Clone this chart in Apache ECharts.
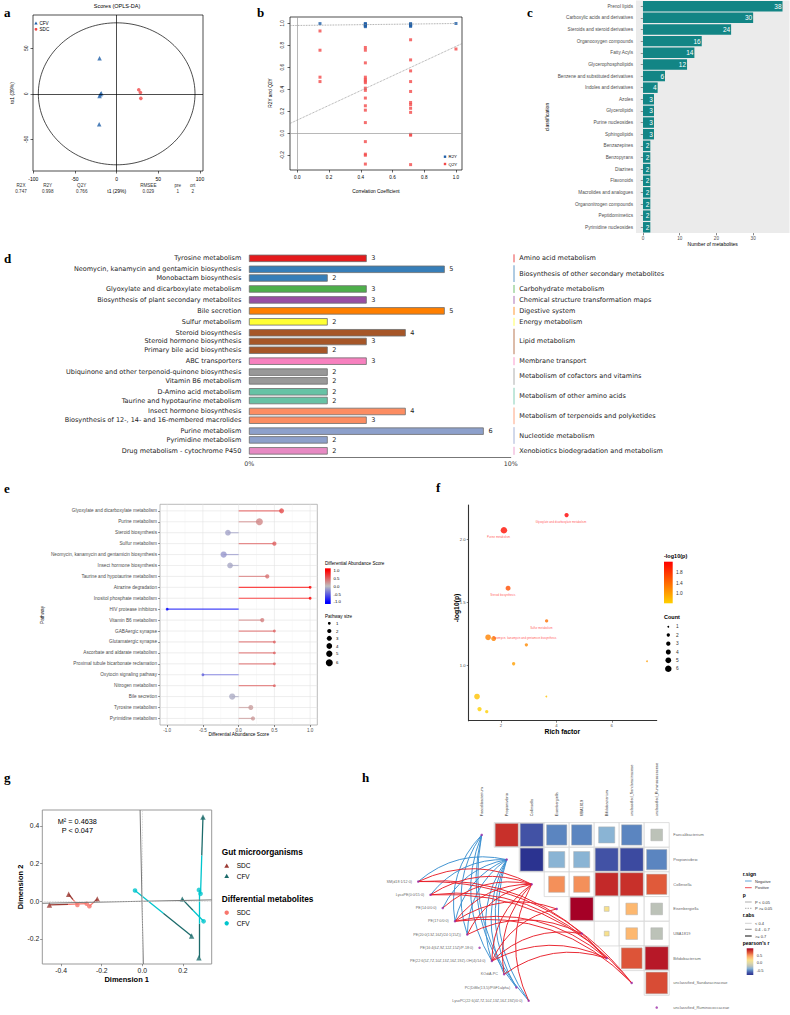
<!DOCTYPE html>
<html>
<head>
<meta charset="utf-8">
<script src="https://cdn.jsdelivr.net/npm/echarts@6/dist/echarts.min.js"></script>
<style>
  html, body { margin: 0; padding: 0; background: #fff; width: 790px; height: 1015px; overflow: hidden; }
  .layer { position: absolute; left: 0; top: 0; width: 790px; height: 1015px; }
</style>
</head>
<body>
<div id="pa" class="layer"></div>
<div id="pb" class="layer"></div>
<div id="pc" class="layer"></div>
<div id="pd" class="layer"></div>
<div id="pe" class="layer"></div>
<div id="pf" class="layer"></div>
<div id="pg" class="layer"></div>
<div id="ph" class="layer"></div>
<div id="plabels" class="layer"></div>
<script>
// ---------- a: OPLS-DA scores
const aCfvT1 = [-20.5, -19.5, -18.5, -20.5, -21];
const aCfvTo1 = [39, -0.5, 0.5, -2.5, -33.5];
const aSdcT1 = [26.5, 28.5, 29];
const aSdcTo1 = [4.4, 1.5, -5];
const aXTicks = [-100, -50, 0, 50, 100];
const aYTicks = [-50, 0, 50];
const aEllipse = [0, 0, 94, 78];
const aStatNames = ['R2X', 'R2Y', 'Q2Y', 'RMSEE', 'pre', 'ort'];
const aStatValues = ['0.747', '0.998', '0.766', '0.029', '1', '2'];

// ---------- b: permutation test
const bR2YX = [0.143, 0.429, 0.429, 0.429, 0.429, 0.429, 0.429, 0.714, 0.714, 0.714, 0.714, 0.714, 1.0];
const bR2YVal = [0.997, 0.998, 0.992, 0.987, 0.981, 0.975, 0.969, 0.997, 0.99, 0.985, 0.978, 0.972, 0.998];
const bQ2YX = [0.143, 0.143, 0.143, 0.143,
  0.429, 0.429, 0.429, 0.429, 0.429, 0.429, 0.429, 0.429, 0.429, 0.429, 0.429, 0.429, 0.429, 0.429, 0.429, 0.429, 0.429,
  0.714, 0.714, 0.714, 0.714, 0.714, 0.714, 0.714, 0.714, 0.714, 0.714, 0.714, 0.714, 1.0];
const bQ2YVal = [0.93, 0.755, 0.51, 0.47,
  0.78, 0.755, 0.64, 0.51, 0.49, 0.475, 0.46, 0.41, 0.39, 0.32, 0.25, 0.21, 0.097, -0.076, -0.19, -0.2, -0.28,
  0.85, 0.667, 0.567, 0.47, 0.38, 0.28, 0.26, 0.227, 0.19, -0.01, -0.018, -0.285, 0.766];
const bR2YLine = [0.98, 0.018];   // intercept, slope
const bQ2YLine = [0.12, 0.67];
const bXTicks = [0, 0.2, 0.4, 0.6, 0.8, 1.0];
const bYTicks = [-0.2, 0, 0.2, 0.4, 0.6, 0.8, 1.0];

// ---------- c: classification counts
const cClasses = ['Prenol lipids', 'Carboxylic acids and derivatives', 'Steroids and steroid derivatives',
  'Organooxygen compounds', 'Fatty Acyls', 'Glycerophospholipids', 'Benzene and substituted derivatives',
  'Indoles and derivatives', 'Azoles', 'Glycerolipids', 'Purine nucleosides', 'Sphingolipids', 'Benzazepines',
  'Benzopyrans', 'Diazines', 'Flavonoids', 'Macrolides and analogues', 'Organonitrogen compounds',
  'Peptidomimetics', 'Pyrimidine nucleosides'];
const cCounts = [38, 30, 24, 16, 14, 12, 6, 4, 3, 3, 3, 3, 2, 2, 2, 2, 2, 2, 2, 2];
const cTicks = [0, 10, 20, 30];

// ---------- d: KEGG pathways
const dPathways = ['Tyrosine metabolism', 'Neomycin, kanamycin and gentamicin biosynthesis', 'Monobactam biosynthesis',
  'Glyoxylate and dicarboxylate metabolism', 'Biosynthesis of plant secondary metabolites', 'Bile secretion',
  'Sulfur metabolism', 'Steroid biosynthesis', 'Steroid hormone biosynthesis', 'Primary bile acid biosynthesis',
  'ABC transporters', 'Ubiquinone and other terpenoid-quinone biosynthesis', 'Vitamin B6 metabolism',
  'D-Amino acid metabolism', 'Taurine and hypotaurine metabolism', 'Insect hormone biosynthesis',
  'Biosynthesis of 12-, 14- and 16-membered macrolides', 'Purine metabolism', 'Pyrimidine metabolism',
  'Drug metabolism - cytochrome P450'];
const dCounts = [3, 5, 2, 3, 3, 5, 2, 4, 3, 2, 3, 2, 2, 2, 2, 4, 3, 6, 2, 2];
const dClassOf = [0, 1, 1, 2, 3, 4, 5, 6, 6, 6, 7, 8, 8, 9, 9, 10, 10, 11, 11, 12];
const dClasses = ['Amino acid metabolism', 'Biosynthesis of other secondary metabolites', 'Carbohydrate metabolism',
  'Chemical structure transformation maps', 'Digestive system', 'Energy metabolism', 'Lipid metabolism',
  'Membrane transport', 'Metabolism of cofactors and vitamins', 'Metabolism of other amino acids',
  'Metabolism of terpenoids and polyketides', 'Nucleotide metabolism', 'Xenobiotics biodegradation and metabolism'];
const dAxisMax = 6.7;   // count equal to 10 %

// ---------- e: differential abundance
const ePathways = ['Glyoxylate and dicarboxylate metabolism', 'Purine metabolism', 'Steroid biosynthesis',
  'Sulfur metabolism', 'Neomycin, kanamycin and gentamicin biosynthesis', 'Insect hormone biosynthesis',
  'Taurine and hypotaurine metabolism', 'Atrazine degradation', 'Inositol phosphate metabolism',
  'HIV protease inhibitors', 'Vitamin B6 metabolism', 'GABAergic synapse', 'Glutamatergic synapse',
  'Ascorbate and aldarate metabolism', 'Proximal tubule bicarbonate reclamation', 'Oxytocin signaling pathway',
  'Nitrogen metabolism', 'Bile secretion', 'Tyrosine metabolism', 'Pyrimidine metabolism'];
const eScores = [0.6, 0.29, -0.15, 0.5, -0.21, -0.12, 0.4, 1.0, 1.0, -1.0, 0.33, 0.5, 0.5, 0.5, 0.5, -0.5, 0.5, -0.09, 0.17, 0.2];
const eSizes = [3, 6, 4, 2, 5, 4, 2, 1, 1, 1, 2, 1, 1, 1, 1, 1, 1, 5, 3, 2];
const eXTicks = [-1, -0.5, 0, 0.5, 1];

// ---------- f: enrichment bubbles
const fPathways = ['Glyoxylate and dicarboxylate metabolism', 'Purine metabolism', 'Steroid biosynthesis',
  'Sulfur metabolism', 'Neomycin, kanamycin and gentamicin biosynthesis', 'Insect hormone biosynthesis',
  'Taurine and hypotaurine metabolism', 'Vitamin B6 metabolism', 'Atrazine degradation', 'Bile secretion',
  'Tyrosine metabolism', 'Pyrimidine metabolism', 'Inositol phosphate metabolism'];
const fRich = [4.37, 2.11, 2.26, 3.65, 1.54, 1.74, 2.92, 2.46, 7.27, 1.14, 1.23, 1.49, 3.64];
const fLogP = [2.19, 2.07, 1.61, 1.35, 1.22, 1.21, 1.16, 1.01, 1.03, 0.75, 0.65, 0.63, 0.75];
const fCount = [3, 6, 4, 2, 5, 4, 2, 2, 1, 5, 3, 2, 1];
const fLabeled = [0, 1, 2, 3, 4];
const fXTicks = [2, 4, 6];
const fYTicks = [1.0, 1.5, 2.0];

// ---------- g: Procrustes
const gSdcMicroX = [-0.458, -0.363, -0.222];
const gSdcMicroY = [-0.02, 0.037, 0.012];
const gSdcMetaX = [-0.32, -0.274, -0.261];
const gSdcMetaY = [-0.02, -0.013, -0.027];
const gSdcPairs = [[0, 1], [1, 0], [2, 2]];
const gCfvMicroX = [0.299, 0.197, 0.243, 0.279];
const gCfvMicroY = [0.448, 0.011, -0.185, -0.301];
const gCfvMetaX = [-0.036, 0.279, 0.287, 0.302];
const gCfvMetaY = [0.057, 0.06, 0.039, -0.107];
const gCfvPairs = [[0, 2], [1, 3], [2, 0], [3, 1]];
const gXTicks = [-0.4, -0.2, 0, 0.2];
const gYTicks = [-0.2, 0, 0.2, 0.4];

// ---------- h: correlation + links
const hTaxa = ['Faecalibacterium', 'Propionivibrio', 'Collinsella', 'Eisenbergiella', 'UBA1819',
  'Bifidobacterium', 'unclassified_Sandaracinaceae', 'unclassified_Ruminococcaceae'];
const hCorr = [
  [0.75, -0.75, -0.6, -0.6, -0.45, -0.6, -0.3],
  [-0.95, -0.45, -0.45, -0.75, -0.8, -0.6],
  [0.45, 0.45, 0.78, 0.75, 0.6],
  [0.95, 0.1, 0.3, -0.3],
  [0.1, 0.3, -0.3],
  [0.62, 0.85],
  [0.65]
];
const hMetabs = ['SM(d18:1/12:0)', 'LysoPE(0:0/15:0)', 'PE(14:0/0:0)', 'PE(17:0/0:0)',
  'PE(20:0(13Z,16Z)/24:1(15Z))', 'PE(16:4(6Z,9Z,12Z,15Z)/P-18:0)', 'PE(22:6(5Z,7Z,10Z,13Z,16Z,19Z)-OH(4)/14:0)',
  'KOdiA-PC', 'PC(DiMe(13,5)/PGF1alpha)', 'LysoPC(22:6(4Z,7Z,10Z,13Z,16Z,19Z)/0:0)'];
// [metabolite, taxon, sign]
const hLinks = [
  [3, 0, -1], [4, 0, -1], [6, 0, -1], [8, 0, -1], [9, 0, -1],
  [0, 1, -1], [1, 1, -1], [2, 1, -1], [3, 1, -1], [4, 1, -1], [6, 1, -1], [7, 1, -1], [8, 1, -1], [9, 1, -1],
  [0, 2, 1], [1, 2, 1], [2, 2, 1], [3, 2, 1], [4, 2, 1], [6, 2, 1], [7, 2, 1], [9, 2, 1],
  [3, 3, 1], [6, 3, 1],
  [4, 4, 1], [6, 4, 1],
  [0, 5, 1], [1, 5, 1], [3, 5, 1], [6, 5, 1], [7, 5, 1],
  [0, 6, 1], [1, 6, 1], [3, 6, 1]
];

// ---------- helpers
const SANS = 'Liberation Sans, Arial, Helvetica, sans-serif';
const DJ = 'DejaVu Sans, Verdana, sans-serif';
const SERIF = 'Liberation Serif, Times New Roman, serif';

function mk(id) {
  return echarts.init(document.getElementById(id), null, { renderer: 'svg', width: 790, height: 1015 });
}
function pts(xs, ys) { return xs.map((x, i) => [x, ys[i]]); }
function txt(x, y, text, size, o) {
  o = o || {};
  return {
    type: 'text', x: x, y: y, rotation: o.rot || 0, silent: true, z: 10,
    style: {
      text: text, fontSize: size, fontFamily: o.font || SANS, fontWeight: o.bold ? 'bold' : 'normal',
      fill: o.color || '#000', align: o.align || 'center', verticalAlign: o.va || 'middle'
    }
  };
}
function hexToRgb(h) { const n = parseInt(h.slice(1), 16); return [(n >> 16) & 255, (n >> 8) & 255, n & 255]; }
function mixColor(stops, v) {
  if (v <= stops[0][0]) return stops[0][1];
  for (let i = 1; i < stops.length; i++) {
    if (v <= stops[i][0]) {
      const t = (v - stops[i - 1][0]) / (stops[i][0] - stops[i - 1][0]);
      const a = hexToRgb(stops[i - 1][1]), b = hexToRgb(stops[i][1]);
      return 'rgb(' + a.map((c, k) => Math.round(c + (b[k] - c) * t)).join(',') + ')';
    }
  }
  return stops[stops.length - 1][1];
}
function vGradient(stops, vmin, vmax) {
  const cs = stops.map(s => ({ offset: Math.min(1, Math.max(0, (vmax - s[0]) / (vmax - vmin))), color: s[1] }));
  cs.sort((p, q) => p.offset - q.offset);
  return new echarts.graphic.LinearGradient(0, 0, 0, 1, cs);
}
function valueAxis(min, max, ticks, o) {
  o = o || {};
  return {
    type: 'value', min: min, max: max, inverse: !!o.inverse,
    axisLine: o.line ? { show: true, onZero: false, lineStyle: o.line } : { show: false, onZero: false },
    splitLine: { show: false },
    axisTick: { show: o.tick !== false, customValues: ticks, length: o.tickLen || 2.5, lineStyle: { color: o.tickColor || '#000', width: 0.6 } },
    axisLabel: {
      customValues: ticks, fontSize: o.fs || 5, fontFamily: o.font || SANS, color: o.color || '#000',
      margin: o.margin || 4, rotate: o.rotate || 0, formatter: o.fmt || (v => String(v))
    }
  };
}

// ================= panel a
const chA = mk('pa');
const aStatX = [21, 47.7, 81.7, 148.3, 177.7, 192.7];
chA.setOption({
  animation: false,
  grid: { left: 33, top: 15, width: 170, height: 156, show: true, borderColor: '#000', borderWidth: 0.7 },
  xAxis: valueAxis(-100.4, 103.6, aXTicks, { margin: 5 }),
  yAxis: valueAxis(-84.8, 86.6, aYTicks, { rotate: 90, margin: 5 }),
  series: [
    {
      type: 'custom', silent: true, clip: false, data: [aEllipse],
      renderItem: function (params, api) {
        const c = api.coord([api.value(0), api.value(1)]);
        const rx = Math.abs(api.size([api.value(2), 0])[0]);
        const ry = Math.abs(api.size([0, api.value(3)])[1]);
        const p = [];
        for (let k = 0; k <= 160; k++) {
          const t = k / 160 * Math.PI * 2;
          p.push([c[0] + rx * Math.cos(t), c[1] + ry * Math.sin(t)]);
        }
        return { type: 'polyline', shape: { points: p }, style: { stroke: '#000', lineWidth: 0.7, fill: null } };
      }
    },
    {
      type: 'scatter', data: pts(aCfvT1, aCfvTo1), symbol: 'triangle', symbolSize: 4.5,
      itemStyle: { color: '#1f5fa8' },
      markLine: {
        silent: true, symbol: 'none', label: { show: false }, animation: false,
        lineStyle: { color: '#000', width: 0.7, type: 'solid' },
        data: [{ xAxis: 0 }, { yAxis: 0 }]
      }
    },
    { type: 'scatter', data: pts(aSdcT1, aSdcTo1), symbol: 'circle', symbolSize: 3.6, itemStyle: { color: '#f04848' } }
  ],
  graphic: [
    txt(117, 6, 'Scores (OPLS-DA)', 5.5),
    txt(11.7, 93, 'to1 (39%)', 5, { rot: Math.PI / 2 }),
    txt(116.7, 191, 't1 (29%)', 5),
    ...aStatNames.map((n, i) => txt(aStatX[i], 185, n, 4.6, { color: '#333' })),
    ...aStatValues.map((n, i) => txt(aStatX[i], 191, n, 4.6, { color: '#333' })),
    { type: 'polygon', shape: { points: [[36, 21.5], [34.3, 24.6], [37.7, 24.6]] }, style: { fill: '#1f5fa8' } },
    { type: 'circle', shape: { cx: 36, cy: 29.3, r: 1.4 }, style: { fill: '#f04848' } },
    txt(39.5, 23.3, 'CFV', 4.6, { align: 'left' }),
    txt(39.5, 29.3, 'SDC', 4.6, { align: 'left' })
  ]
});

// ================= panel b
const chB = mk('pb');
const bXMin = -0.046, bXMax = 1.038;
const lineAt = (ln, x) => ln[0] + ln[1] * x;
chB.setOption({
  animation: false,
  grid: { left: 290, top: 17, width: 172, height: 153, show: true, borderColor: '#000', borderWidth: 0.7 },
  xAxis: valueAxis(bXMin, bXMax, bXTicks, { fs: 4.6, margin: 5, fmt: v => v.toFixed(1) }),
  yAxis: valueAxis(-0.334, 1.057, bYTicks, { fs: 4.6, margin: 5, rotate: 90, fmt: v => v.toFixed(1) }),
  series: [
    {
      type: 'scatter', data: pts(bQ2YX, bQ2YVal), symbol: 'rect', symbolSize: 3, itemStyle: { color: '#f24a4a' },
      markLine: {
        silent: true, symbol: 'none', label: { show: false }, animation: false,
        data: [
          { xAxis: 0, lineStyle: { color: '#9a9a9a', width: 0.7, type: 'solid' } },
          { yAxis: 0, lineStyle: { color: '#9a9a9a', width: 0.7, type: 'solid' } },
          [{ coord: [bXMin, lineAt(bQ2YLine, bXMin)], lineStyle: { color: '#8a8a8a', width: 0.8, type: 'dotted' } },
            { coord: [bXMax, lineAt(bQ2YLine, bXMax)] }],
          [{ coord: [bXMin, lineAt(bR2YLine, bXMin)], lineStyle: { color: '#8a8a8a', width: 0.8, type: 'dotted' } },
            { coord: [1.0, lineAt(bR2YLine, 1.0)] }]
        ]
      }
    },
    { type: 'scatter', data: pts(bR2YX, bR2YVal), symbol: 'rect', symbolSize: 3, itemStyle: { color: '#1f5fa8' } }
  ],
  graphic: [
    txt(270, 93, 'R2Y and Q2Y', 4.8, { rot: Math.PI / 2 }),
    txt(376, 191.5, 'Correlation Coefficient', 4.8),
    { type: 'rect', shape: { x: 443.8, y: 155.5, width: 2.4, height: 2.4 }, style: { fill: '#1f5fa8' } },
    { type: 'rect', shape: { x: 443.8, y: 162.8, width: 2.4, height: 2.4 }, style: { fill: '#f24a4a' } },
    txt(448.5, 156.7, 'R2Y', 4.4, { align: 'left' }),
    txt(448.5, 164, 'Q2Y', 4.4, { align: 'left' })
  ]
});

// ================= panel c
const chC = mk('pc');
chC.setOption({
  animation: false,
  grid: { left: 636, top: 0.4, width: 153.5, height: 232.7, show: true, backgroundColor: '#ebebeb', borderWidth: 0 },
  xAxis: valueAxis(-1.9, 39.9, cTicks, { fs: 4.6, color: '#4d4d4d', tickColor: '#333', tickLen: 2.2, margin: 3 }),
  yAxis: {
    type: 'category', inverse: true, data: cClasses,
    axisLine: { show: false },
    axisTick: { show: true, alignWithLabel: true, length: 2.2, lineStyle: { color: '#333', width: 0.5 } },
    axisLabel: { fontSize: 4.7, fontFamily: SANS, color: '#4d4d4d', margin: 3 }
  },
  series: [{
    type: 'bar', data: cCounts, barCategoryGap: '10%', itemStyle: { color: '#128585' },
    label: { show: true, position: 'insideRight', distance: 1, color: '#fff', fontSize: 6.5, fontFamily: SANS }
  }],
  graphic: [
    txt(546.7, 117, 'classification', 5, { rot: Math.PI / 2 }),
    txt(712.7, 244, 'Number of metabolites', 5)
  ]
});

// ================= panel d
const chD = mk('pd');
const dColors = ['#e41a1c', '#377eb8', '#4daf4a', '#984ea3', '#ff7f00', '#ffff33', '#a65628',
  '#f781bf', '#999999', '#66c2a5', '#fc8d62', '#8da0cb', '#e78ac3'];
const dGap = 0.256;
const dPos = dPathways.map((p, k) => k + dGap * dClassOf[k]);
const dGroups = dClasses.map((c, ci) => {
  const rows = dPos.filter((p, k) => dClassOf[k] === ci);
  return [rows[0], rows[rows.length - 1], ci];
});
chD.setOption({
  animation: false,
  grid: { left: 249.3, top: 253.1, width: 261.4, height: 204.6 },
  xAxis: {
    type: 'value', min: 0, max: dAxisMax, splitLine: { show: false },
    axisLine: { show: true, onZero: false, lineStyle: { color: '#777', width: 1.2 } },
    axisTick: { show: false },
    axisLabel: { customValues: [0, dAxisMax], formatter: v => (v === 0 ? '0%' : '10%'), fontSize: 6.3, fontFamily: DJ, color: '#333', margin: 2.5 }
  },
  yAxis: {
    type: 'value', inverse: true, min: -0.6, max: 22.86, splitLine: { show: false },
    axisLine: { show: false, onZero: false }, axisTick: { show: false },
    axisLabel: {
      customValues: dPos, fontSize: 6.5, fontFamily: DJ, color: '#222', margin: 8,
      formatter: v => dPathways[dPos.findIndex(p => Math.abs(p - v) < 1e-6)]
    }
  },
  series: [
    {
      type: 'custom', clip: false, silent: true,
      data: dCounts.map((c, k) => [c, dPos[k], dClassOf[k]]),
      renderItem: function (params, api) {
        const v = api.value(0), p = api.value(1), ci = api.value(2);
        const s = api.coord([0, p]), e = api.coord([v, p]);
        const h = 6.6;
        return {
          type: 'group', children: [
            { type: 'rect', shape: { x: s[0], y: s[1] - h / 2, width: e[0] - s[0], height: h }, style: { fill: dColors[ci], stroke: '#6e6e6e', lineWidth: 0.8 } },
            { type: 'text', x: e[0] + 5, y: s[1], style: { text: String(v), fontSize: 6.5, fontFamily: DJ, fill: '#222', align: 'left', verticalAlign: 'middle' } }
          ]
        };
      }
    },
    {
      type: 'custom', clip: false, silent: true, data: dGroups,
      renderItem: function (params, api) {
        const a = api.coord([dAxisMax, api.value(0)]), b = api.coord([dAxisMax, api.value(1)]);
        const ci = api.value(2);
        const x = a[0] + 3.3;
        return {
          type: 'group', children: [
            { type: 'line', shape: { x1: x, y1: a[1] - 4, x2: x, y2: b[1] + 4 }, style: { stroke: dColors[ci], lineWidth: 0.8 } },
            { type: 'text', x: x + 5.3, y: (a[1] + b[1]) / 2, style: { text: dClasses[ci], fontSize: 6.5, fontFamily: DJ, fill: '#222', align: 'left', verticalAlign: 'middle' } }
          ]
        };
      }
    }
  ]
});

// ================= panel e
const chE = mk('pe');
const eStops = [[-1, '#0000ff'], [0, '#bebebe'], [1, '#ff0000']];
const eSizePx = [0, 2.8, 4.2, 5, 5.7, 6.3, 7];
const eMinor = [-0.75, -0.25, 0.25, 0.75];
chE.setOption({
  animation: false,
  grid: { left: 160, top: 504.3, width: 157.3, height: 220.7, show: true, borderColor: '#a8a8a8', borderWidth: 0.8 },
  xAxis: valueAxis(-1.1, 1.1, eXTicks, { fs: 4.6, color: '#4d4d4d', tickColor: '#333', tickLen: 2, margin: 3, fmt: v => v.toFixed(1) }),
  yAxis: {
    type: 'value', inverse: true, min: -0.6, max: 19.6, splitLine: { show: false }, axisLine: { show: false, onZero: false },
    axisTick: { show: true, customValues: ePathways.map((p, i) => i), length: 2, lineStyle: { color: '#333', width: 0.5 } },
    axisLabel: { customValues: ePathways.map((p, i) => i), fontSize: 4.7, fontFamily: SANS, color: '#4d4d4d', margin: 3, formatter: v => ePathways[Math.round(v)] }
  },
  series: [
    {
      type: 'custom', silent: true, z: 1,
      data: ePathways.map((p, i) => [i]),
      renderItem: function (params, api) {
        const a = api.coord([-1.1, api.value(0)]), b = api.coord([1.1, api.value(0)]);
        return { type: 'line', shape: { x1: a[0], y1: a[1], x2: b[0], y2: b[1] }, style: { stroke: '#e3e3e3', lineWidth: 0.6 } };
      }
    },
    {
      type: 'custom', silent: true, z: 1,
      data: eXTicks.map(v => [v, 0.6]).concat(eMinor.map(v => [v, 0.35])),
      renderItem: function (params, api) {
        const a = api.coord([api.value(0), -0.6]), b = api.coord([api.value(0), 19.6]);
        return { type: 'line', shape: { x1: a[0], y1: a[1], x2: b[0], y2: b[1] }, style: { stroke: api.value(1) > 0.5 ? '#e3e3e3' : '#efefef', lineWidth: api.value(1) } };
      }
    },
    {
      type: 'custom', silent: true, z: 2,
      data: eScores.map((v, i) => [v, i]),
      renderItem: function (params, api) {
        const v = api.value(0);
        const a = api.coord([0, api.value(1)]), b = api.coord([v, api.value(1)]);
        return { type: 'line', shape: { x1: a[0], y1: a[1], x2: b[0], y2: b[1] }, style: { stroke: mixColor(eStops, v), lineWidth: 1.2, opacity: 0.7 } };
      }
    },
    {
      type: 'scatter', z: 3,
      data: eScores.map((v, i) => ({ value: [v, i], symbolSize: eSizePx[eSizes[i]], itemStyle: { color: mixColor(eStops, v) } }))
    }
  ],
  graphic: [
    txt(42.7, 615, 'Pathway', 4.7, { rot: Math.PI / 2 }),
    txt(238.7, 734.3, 'Differential Abundance Score', 4.7),
    txt(325, 563, 'Differential Abundance Score', 4.6, { align: 'left' }),
    { type: 'rect', shape: { x: 325, y: 568.3, width: 5.7, height: 35.7 }, style: { fill: vGradient(eStops, -1.12, 1.12) } },
    ...['1.0', '0.5', '0.0', '-0.5', '-1.0'].map((t, k) => txt(333.5, 570.3 + k * 7.9, t, 4.3, { align: 'left' })),
    txt(325, 616, 'Pathway size', 4.6, { align: 'left' }),
    ...[1, 2, 3, 4, 5, 6].map((s, k) => ({ type: 'circle', shape: { cx: 329.3, cy: [623.3, 631, 638.3, 646, 653.7, 662.7][k], r: eSizePx[s] / 2 }, style: { fill: '#000' } })),
    ...[1, 2, 3, 4, 5, 6].map((s, k) => txt(336, [623.3, 631, 638.3, 646, 653.7, 662.7][k], String(s), 4.3, { align: 'left' }))
  ]
});

// ================= panel f
const chF = mk('pf');
const fStops = [[0.65, '#ffd000'], [2.17, '#ff0000']];
const fSizePx = [0, 1.8, 3.3, 4.3, 5, 5.7, 6.5];
const fLabelOffset = { 0: [-5.7, 6.6], 1: [-5.3, 6.6], 2: [-5.3, 6.3], 3: [-5.3, 6.7], 4: [36.7, 0.3] };
const fCountY = [626.7, 635, 643.7, 652, 660.3, 668.7];
chF.setOption({
  animation: false,
  grid: { left: 468.7, top: 505, width: 188, height: 215.7 },
  xAxis: valueAxis(0.84, 7.62, fXTicks, { fs: 4.2, color: '#4d4d4d', tickColor: '#333', tickLen: 2, margin: 3, line: { color: '#333', width: 1.1 } }),
  yAxis: valueAxis(0.558, 2.27, fYTicks, { fs: 4.2, color: '#4d4d4d', tickColor: '#333', tickLen: 2, margin: 3, line: { color: '#333', width: 1.1 }, fmt: v => v.toFixed(1) }),
  series: [{
    type: 'scatter',
    data: fRich.map((x, i) => ({
      name: fPathways[i], value: [x, fLogP[i]], symbolSize: fSizePx[fCount[i]],
      itemStyle: { color: mixColor(fStops, fLogP[i]) },
      label: fLabeled.indexOf(i) >= 0 ? { show: true, position: 'inside', offset: fLabelOffset[i], formatter: '{b}', fontSize: 2.8, fontFamily: SANS, color: '#ff2a2a' } : { show: false }
    }))
  }],
  graphic: [
    txt(456, 608, '-log10(p)', 6.8, { rot: Math.PI / 2, bold: true }),
    txt(562.3, 731.7, 'Rich factor', 6.8, { bold: true }),
    txt(664, 556, '-log10(p)', 5.5, { bold: true, align: 'left' }),
    { type: 'rect', shape: { x: 664, y: 561.7, width: 8.7, height: 41.6 }, style: { fill: vGradient(fStops, 0.65, 2.17) } },
    txt(676, 572, '1.8', 4.8, { align: 'left', color: '#333' }),
    txt(676, 583, '1.4', 4.8, { align: 'left', color: '#333' }),
    txt(676, 593.7, '1.0', 4.8, { align: 'left', color: '#333' }),
    txt(664, 617, 'Count', 5.5, { bold: true, align: 'left' }),
    ...[1, 2, 3, 4, 5, 6].map((s, k) => ({ type: 'circle', shape: { cx: 668.3, cy: fCountY[k], r: fSizePx[s] / 2 }, style: { fill: '#000' } })),
    ...[1, 2, 3, 4, 5, 6].map((s, k) => txt(676, fCountY[k], String(s), 4.8, { align: 'left', color: '#333' }))
  ]
});

// ================= panel g
const chG = mk('pg');
const gCol = { sdcMicro: '#9b3a33', sdcMeta: '#f8766d', cfvMicro: '#1c6b6b', cfvMeta: '#00c5cd' };
function halfSegments(mx, my, tx, ty, pairs, c1, c2) {
  const out = [];
  pairs.forEach(([a, b]) => {
    const x0 = mx[a], y0 = my[a], x1 = tx[b], y1 = ty[b];
    const xm = (x0 + x1) / 2, ym = (y0 + y1) / 2;
    out.push({ coords: [[x0, y0], [xm, ym]], lineStyle: { color: c1 } });
    out.push({ coords: [[xm, ym], [x1, y1]], lineStyle: { color: c2 } });
  });
  return out;
}
chG.setOption({
  animation: false,
  grid: { left: 42.3, top: 810, width: 169.4, height: 154, show: true, borderColor: '#999', borderWidth: 1 },
  xAxis: valueAxis(-0.493, 0.342, gXTicks, { fs: 6.8, color: '#222', tickColor: '#555', tickLen: 2.2, margin: 3, fmt: v => v.toFixed(1) }),
  yAxis: valueAxis(-0.334, 0.485, gYTicks, { fs: 6.8, color: '#222', tickColor: '#555', tickLen: 2.2, margin: 3, fmt: v => v.toFixed(1) }),
  series: [
    {
      type: 'lines', coordinateSystem: 'cartesian2d', silent: true, z: 2,
      lineStyle: { width: 1.3, opacity: 1 },
      data: halfSegments(gSdcMicroX, gSdcMicroY, gSdcMetaX, gSdcMetaY, gSdcPairs, gCol.sdcMicro, gCol.sdcMeta)
        .concat(halfSegments(gCfvMicroX, gCfvMicroY, gCfvMetaX, gCfvMetaY, gCfvPairs, gCol.cfvMicro, gCol.cfvMeta)),
      markLine: {
        silent: true, symbol: 'none', label: { show: false }, animation: false,
        data: [
          [{ coord: [-0.011, 0.485], lineStyle: { color: '#777', width: 1, type: 'solid' } }, { coord: [0.005, -0.334] }],
          [{ coord: [-0.493, -0.011], lineStyle: { color: '#777', width: 1, type: 'solid' } }, { coord: [0.342, 0.007] }],
          { xAxis: 0, lineStyle: { color: '#cfcfcf', width: 0.8, type: 'dotted' } },
          { yAxis: 0, lineStyle: { color: '#cfcfcf', width: 0.8, type: 'dotted' } }
        ]
      }
    },
    { type: 'scatter', z: 3, data: pts(gSdcMetaX, gSdcMetaY), symbol: 'circle', symbolSize: 4.6, itemStyle: { color: gCol.sdcMeta } },
    { type: 'scatter', z: 3, data: pts(gCfvMetaX, gCfvMetaY), symbol: 'circle', symbolSize: 4.6, itemStyle: { color: gCol.cfvMeta } },
    { type: 'scatter', z: 4, data: pts(gSdcMicroX, gSdcMicroY), symbol: 'triangle', symbolSize: 5.4, itemStyle: { color: gCol.sdcMicro } },
    { type: 'scatter', z: 4, data: pts(gCfvMicroX, gCfvMicroY), symbol: 'triangle', symbolSize: 5.4, itemStyle: { color: gCol.cfvMicro } }
  ],
  graphic: [
    txt(77.3, 821.7, 'M\u00b2 = 0.4638', 7.3),
    txt(77.3, 830, 'P < 0.047', 7.3),
    txt(126.7, 979, 'Dimension 1', 7.5, { bold: true }),
    txt(20.7, 887, 'Dimension 2', 7.5, { bold: true, rot: Math.PI / 2 }),
    txt(221.7, 851.7, 'Gut microorganisms', 8.3, { bold: true, align: 'left' }),
    { type: 'polygon', shape: { points: [[226.7, 863.5], [224.3, 867.8], [229.1, 867.8]] }, style: { fill: gCol.sdcMicro } },
    { type: 'polygon', shape: { points: [[226.7, 873.8], [224.3, 878.1], [229.1, 878.1]] }, style: { fill: gCol.cfvMicro } },
    txt(236.7, 865.7, 'SDC', 6.5, { align: 'left' }),
    txt(236.7, 876, 'CFV', 6.5, { align: 'left' }),
    txt(221.7, 899, 'Differential metabolites', 8.3, { bold: true, align: 'left' }),
    { type: 'circle', shape: { cx: 226.7, cy: 912.7, r: 2.2 }, style: { fill: gCol.sdcMeta } },
    { type: 'circle', shape: { cx: 226.7, cy: 923.3, r: 2.2 }, style: { fill: gCol.cfvMeta } },
    txt(236.7, 912.7, 'SDC', 6.5, { align: 'left' }),
    txt(236.7, 923.3, 'CFV', 6.5, { align: 'left' })
  ]
});

// ================= panel h
const chH = mk('ph');
const hStops = [[-0.95, '#2b3390'], [-0.75, '#4252a5'], [-0.6, '#5b85c0'], [-0.45, '#8ab4d4'], [-0.3, '#bcc2b8'],
  [-0.1, '#ddd8a8'], [0.1, '#f7e08c'], [0.3, '#fdb870'], [0.45, '#f4905a'], [0.6, '#e05a3a'], [0.75, '#c8302a'], [0.95, '#a50026']];
const hNode = { x0: -2.54, dx: 0.491, y0: 1.89, dy: 0.537 };
const hNodeX = k => hNode.x0 + hNode.dx * k;
const hNodeY = k => hNode.y0 + hNode.dy * k;
const hSquarePx = r => 23 * Math.pow(Math.min(1, Math.abs(r) / 0.7), 0.8);
const hCells = [];
hCorr.forEach((row, i) => row.forEach((r, k) => hCells.push([i + 1 + k, i, r])));
const hPurple = '#9b2ca8';
chH.setOption({
  animation: false,
  grid: { left: 384.2, top: 756, width: 297.5, height: 262.5 },
  xAxis: { type: 'value', min: -3.9, max: 8, show: false },
  yAxis: { type: 'value', min: -3.2, max: 7.3, inverse: true, show: false },
  series: [
    {
      type: 'custom', silent: true, clip: false, z: 1, data: hCells,
      renderItem: function (params, api) {
        const c = api.coord([api.value(0), api.value(1)]);
        const cell = api.size([1, 1]).map(Math.abs);
        const r = api.value(2), s = hSquarePx(r);
        return {
          type: 'group', children: [
            { type: 'rect', shape: { x: c[0] - cell[0] / 2, y: c[1] - cell[1] / 2, width: cell[0], height: cell[1] }, style: { fill: '#fff', stroke: '#d6d6d6', lineWidth: 0.8 } },
            { type: 'rect', shape: { x: c[0] - s / 2, y: c[1] - s / 2, width: s, height: s }, style: { fill: mixColor(hStops, r), stroke: '#b0b0b0', lineWidth: 0.5 } }
          ]
        };
      }
    },
    {
      type: 'custom', silent: true, clip: false, data: hTaxa.map((t, j) => [j]),
      renderItem: function (params, api) {
        const j = api.value(0), p = api.coord([j, -0.76]);
        return { type: 'text', x: p[0], y: p[1], rotation: Math.PI / 2, style: { text: hTaxa[j], fontSize: 3.8, fontFamily: SANS, fill: '#333', align: 'left', verticalAlign: 'middle' } };
      }
    },
    {
      type: 'scatter', silent: true, symbolSize: 0,
      data: hTaxa.map((t, i) => ({ name: t, value: [7, i] })),
      label: { show: true, position: 'right', distance: 16.6, formatter: '{b}', fontSize: 4, fontFamily: SANS, color: '#333' }
    },
    {
      type: 'lines', coordinateSystem: 'cartesian2d', silent: true, z: 2,
      lineStyle: { width: 1, curveness: 0.25, opacity: 0.95 },
      data: hLinks.map(([m, t, s]) => ({ coords: [[hNodeX(m), hNodeY(m)], [t, t]], lineStyle: { color: s > 0 ? '#e8202a' : '#3a8fd0' } }))
    },
    {
      type: 'scatter', z: 3, symbolSize: 2.5, itemStyle: { color: hPurple },
      data: hMetabs.map((n, k) => ({ name: n, value: [hNodeX(k), hNodeY(k)] })),
      label: { show: true, position: 'left', distance: 5, formatter: '{b}', fontSize: 3.7, fontFamily: SANS, color: '#333' }
    },
    { type: 'scatter', z: 3, symbolSize: 2.5, itemStyle: { color: hPurple }, data: hTaxa.map((t, i) => [i, i]) }
  ],
  graphic: [
    txt(742.7, 874, 'r.sign', 5, { bold: true, align: 'left' }),
    { type: 'line', shape: { x1: 745, y1: 881, x2: 751.7, y2: 881 }, style: { stroke: '#3a8fd0', lineWidth: 0.8 } },
    { type: 'line', shape: { x1: 745, y1: 887.7, x2: 751.7, y2: 887.7 }, style: { stroke: '#e8202a', lineWidth: 0.8 } },
    txt(755, 881, 'Negative', 4, { align: 'left', color: '#333' }),
    txt(755, 887.7, 'Positive', 4, { align: 'left', color: '#333' }),
    txt(742.7, 895, 'p', 5, { bold: true, align: 'left' }),
    { type: 'line', shape: { x1: 745, y1: 902, x2: 751.7, y2: 902 }, style: { stroke: '#999', lineWidth: 0.8 } },
    { type: 'line', shape: { x1: 745, y1: 908.3, x2: 751.7, y2: 908.3 }, style: { stroke: '#999', lineWidth: 0.8, lineDash: [1.5, 1] } },
    txt(755, 902, 'P < 0.05', 4, { align: 'left', color: '#333' }),
    txt(755, 908.3, 'P >= 0.05', 4, { align: 'left', color: '#333' }),
    txt(742.7, 915, 'r.abs', 5, { bold: true, align: 'left' }),
    { type: 'line', shape: { x1: 745, y1: 923.3, x2: 751.7, y2: 923.3 }, style: { stroke: '#666', lineWidth: 0.3 } },
    { type: 'line', shape: { x1: 745, y1: 929.3, x2: 751.7, y2: 929.3 }, style: { stroke: '#666', lineWidth: 0.7 } },
    { type: 'line', shape: { x1: 745, y1: 936, x2: 751.7, y2: 936 }, style: { stroke: '#333', lineWidth: 1.2 } },
    txt(755, 923.3, '< 0.4', 4, { align: 'left', color: '#333' }),
    txt(755, 929.3, '0.4 - 0.7', 4, { align: 'left', color: '#333' }),
    txt(755, 936, '>= 0.7', 4, { align: 'left', color: '#333' }),
    txt(742.7, 943.3, "pearson's r", 5, { bold: true, align: 'left' }),
    { type: 'rect', shape: { x: 746.7, y: 948.3, width: 6.6, height: 26.7 }, style: { fill: vGradient(hStops, -0.9, 0.9) } },
    txt(756.7, 955, '0.5', 4, { align: 'left', color: '#333' }),
    txt(756.7, 962.7, '0.0', 4, { align: 'left', color: '#333' }),
    txt(756.7, 970, '-0.5', 4, { align: 'left', color: '#333' })
  ]
});

// ================= panel letters
const chL = mk('plabels');
const panelLetters = [['a', 4, 12], ['b', 257, 12], ['c', 527, 12], ['d', 4, 258], ['e', 4, 488], ['f', 436, 487], ['g', 4, 777], ['h', 362, 777]];
chL.setOption({
  animation: false,
  graphic: panelLetters.map(([t, x, y]) => txt(x, y, t, 13, { font: SERIF, bold: true, align: 'left' }))
});
</script>
</body>
</html>
